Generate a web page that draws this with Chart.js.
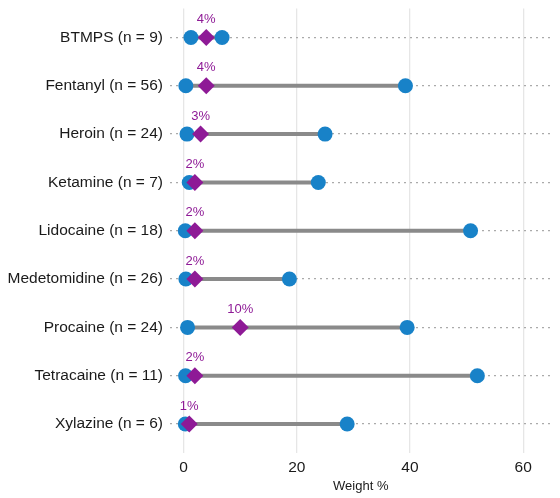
<!DOCTYPE html>
<html>
<head>
<meta charset="utf-8">
<script src="https://cdn.jsdelivr.net/npm/chart.js@4"></script>
<style>
  html, body { margin: 0; padding: 0; background: #fff; }
  #wrap { width: 560px; height: 498px; }
</style>
</head>
<body>
<div id="wrap"><canvas id="dumbbell"></canvas></div>
<script>
// Drug categories (top to bottom) and weight % values
const drugs = ["BTMPS (n = 9)", "Fentanyl (n = 56)", "Heroin (n = 24)", "Ketamine (n = 7)",
  "Lidocaine (n = 18)", "Medetomidine (n = 26)", "Procaine (n = 24)", "Tetracaine (n = 11)", "Xylazine (n = 6)"];
const minWeight = [1.3, 0.4, 0.6, 1.0, 0.3, 0.4, 0.7, 0.35, 0.3];
const maxWeight = [6.8, 39.2, 25.0, 23.8, 50.7, 18.7, 39.5, 51.9, 28.9];
const medianWeight = [4, 4, 3, 2, 2, 2, 10, 2, 1];
const xTicks = [0, 20, 40, 60];

const BLUE = "#1882c8";
const PURPLE = "#8e1a96";
const FONT = "'Liberation Sans', Arial, sans-serif";

// range segments, broken between rows with null points
const rangeLine = [];
drugs.forEach((d, i) => {
  rangeLine.push({ x: minWeight[i], y: i }, { x: maxWeight[i], y: i }, { x: null, y: null });
});
const endPoints = [];
drugs.forEach((d, i) => {
  endPoints.push({ x: minWeight[i], y: i }, { x: maxWeight[i], y: i });
});
const medians = medianWeight.map((v, i) => ({ x: v, y: i }));

// draws the "n%" labels above the median diamonds
const medianLabels = {
  id: "medianLabels",
  afterDatasetsDraw(chart) {
    const { ctx, scales } = chart;
    ctx.save();
    ctx.fillStyle = PURPLE;
    ctx.font = "13px " + FONT;
    ctx.textAlign = "center";
    ctx.textBaseline = "middle";
    medians.forEach((p) => {
      ctx.fillText(p.x + "%", scales.x.getPixelForValue(p.x), scales.y.getPixelForValue(p.y) - 18);
    });
    ctx.restore();
  },
};

new Chart(document.getElementById("dumbbell"), {
  type: "scatter",
  data: {
    datasets: [
      {
        data: rangeLine,
        showLine: true,
        spanGaps: false,
        borderColor: "#8a8a8a",
        borderWidth: 4,
        pointRadius: 0,
        order: 3,
      },
      {
        data: endPoints,
        backgroundColor: BLUE,
        borderWidth: 0,
        pointRadius: 7.5,
        order: 2,
      },
      {
        data: medians,
        pointStyle: "rectRot",
        backgroundColor: PURPLE,
        borderWidth: 0,
        pointRadius: 8.5,
        order: 1,
      },
    ],
  },
  options: {
    responsive: true,
    maintainAspectRatio: false,
    animation: false,
    layout: { padding: { left: 0, right: 8, top: 7, bottom: 0 } },
    scales: {
      x: {
        type: "linear",
        min: -2.4,
        max: 65,
        afterBuildTicks: (axis) => { axis.ticks = xTicks.map((v) => ({ value: v })); },
        afterFit: (axis) => { axis.height = 45; axis.paddingLeft = 0; axis.paddingRight = 0; },
        grid: { color: "#e6e6e6", lineWidth: 1.3, drawTicks: false },
        border: { display: false },
        ticks: { color: "#1a1a1a", font: { family: FONT, size: 15.5 }, padding: 5 },
        title: { display: true, text: "Weight %", color: "#1a1a1a", font: { family: FONT, size: 13 }, padding: { top: 4 } },
      },
      y: {
        type: "linear",
        reverse: true,
        min: -0.6,
        max: 8.6,
        afterBuildTicks: (axis) => { axis.ticks = drugs.map((d, i) => ({ value: i })); },
        afterFit: (axis) => { axis.width = 170; axis.paddingTop = 0; axis.paddingBottom = 0; },
        grid: { color: "#aaaaaa", lineWidth: 1.3, drawTicks: false },
        border: { display: false, dash: [2, 4] },
        ticks: {
          color: "#1a1a1a",
          font: { family: FONT, size: 15.5 },
          padding: 7,
          callback: (v) => drugs[v],
        },
      },
    },
    plugins: {
      legend: { display: false },
      tooltip: { enabled: false },
    },
  },
  plugins: [medianLabels],
});
</script>
</body>
</html>
